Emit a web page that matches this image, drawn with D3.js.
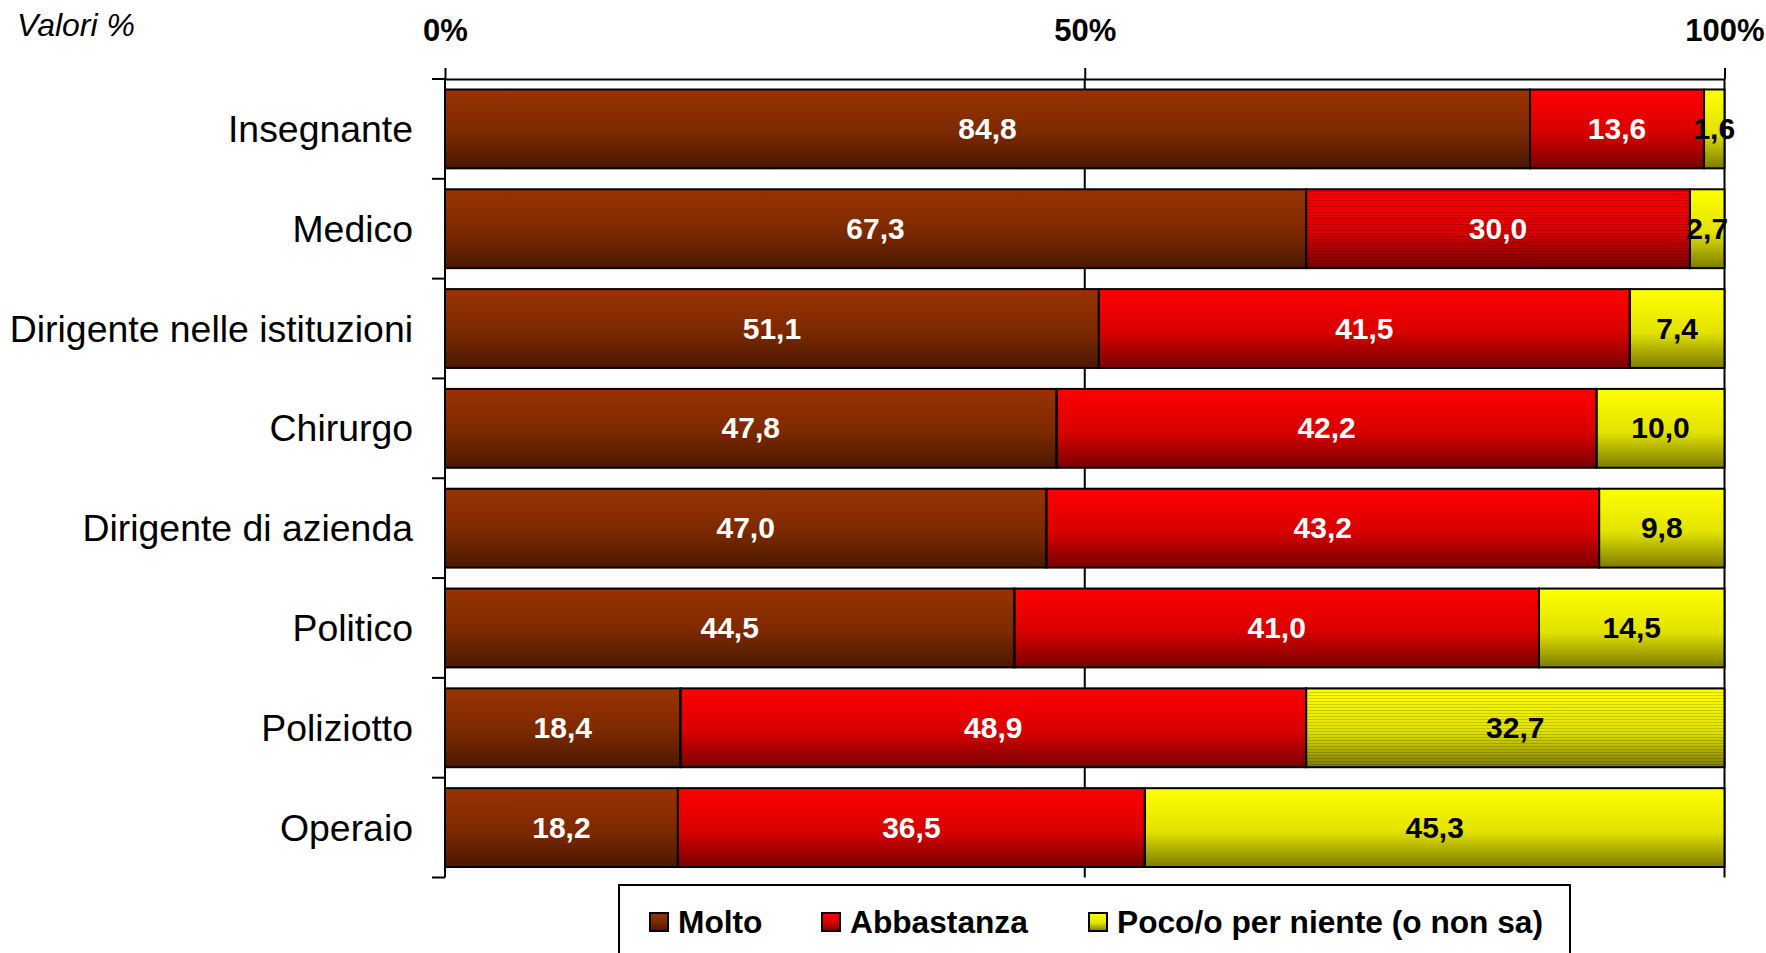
<!DOCTYPE html>
<html>
<head>
<meta charset="utf-8">
<script src="https://cdn.jsdelivr.net/npm/d3@7"></script>
<style>
  html, body { margin: 0; padding: 0; background: #fff; }
  svg { display: block; font-family: "Liberation Sans", Arial, sans-serif; }
</style>
</head>
<body>
<svg id="chart" width="1766" height="953"></svg>
<script>
const categories = ["Insegnante", "Medico", "Dirigente nelle istituzioni", "Chirurgo",
  "Dirigente di azienda", "Politico", "Poliziotto", "Operaio"];
const seriesNames = ["Molto", "Abbastanza", "Poco/o per niente (o non sa)"];
const molto = [84.8, 67.3, 51.1, 47.8, 47.0, 44.5, 18.4, 18.2];
const abbastanza = [13.6, 30.0, 41.5, 42.2, 43.2, 41.0, 48.9, 36.5];
const poco = [1.6, 2.7, 7.4, 10.0, 9.8, 14.5, 32.7, 45.3];
const tickValues = [0, 50, 100];
const axisTitle = "Valori %";

const seriesValues = [molto, abbastanza, poco];
const topColors = ["#993300", "#ff0000", "#ffff00"];
const midColors = ["#7c2900", "#d80000", "#e2e200"];
const bottomColors = ["#4a1800", "#780000", "#7c7c00"];
const labelColors = ["#ffffff", "#ffffff", "#000000"];
// segments drawn with a striped texture in the original
const striped = [[1, 1], [6, 2]]; // [categoryIndex, seriesIndex]

const svg = d3.select("#chart");
const defs = svg.append("defs");
seriesNames.forEach((s, i) => {
  const g = defs.append("linearGradient").attr("id", "grad" + i)
    .attr("x1", 0).attr("y1", 0).attr("x2", 0).attr("y2", 1);
  g.append("stop").attr("offset", "0%").attr("stop-color", topColors[i]);
  g.append("stop").attr("offset", "55%").attr("stop-color", midColors[i]);
  g.append("stop").attr("offset", "100%").attr("stop-color", bottomColors[i]);
});
const pat = defs.append("pattern").attr("id", "stripes")
  .attr("patternUnits", "userSpaceOnUse").attr("width", 8).attr("height", 3);
pat.append("rect").attr("x", 0).attr("y", 2).attr("width", 8).attr("height", 1)
  .attr("fill", "rgba(0,0,0,0.16)");

const plotLeft = 445, plotRight = 1724.5, plotTop = 79, plotBottom = 877.5;
const x = d3.scaleLinear().domain([0, 100]).range([plotLeft, plotRight]);
const y = d3.scaleBand().domain(categories).range([plotTop, plotBottom])
  .paddingInner(0.21).paddingOuter(0.105);
const step = y.step();

// gridlines at 50% and 100%
svg.append("g").selectAll("line").data(tickValues.filter(v => v > 0)).join("line")
  .attr("x1", d => x(d)).attr("x2", d => x(d))
  .attr("y1", plotTop).attr("y2", plotBottom)
  .attr("stroke", "#000").attr("stroke-width", 2);

// top axis
const xAxis = svg.append("g").attr("transform", `translate(0,${plotTop})`)
  .call(d3.axisTop(x).tickValues(tickValues).tickSize(11).tickSizeOuter(0).tickFormat(d => d + "%"));
xAxis.select(".domain").attr("stroke", "#000").attr("stroke-width", 2);
xAxis.selectAll(".tick line").attr("stroke", "#000").attr("stroke-width", 2);
xAxis.selectAll(".tick text").attr("font-size", 31).attr("font-weight", "bold")
  .attr("font-family", "'Liberation Sans', Arial, sans-serif")
  .attr("fill", "#000").attr("y", -38).attr("dy", 0);

// left axis: domain line + ticks at band boundaries
const boundaries = categories.map(c => y(c) - y.paddingInner() * step / 2);
boundaries.push(plotBottom);
svg.append("line").attr("x1", plotLeft).attr("x2", plotLeft).attr("y1", plotTop).attr("y2", plotBottom)
  .attr("stroke", "#000").attr("stroke-width", 2);
svg.append("g").selectAll("line").data(boundaries).join("line")
  .attr("x1", plotLeft - 13).attr("x2", plotLeft).attr("y1", d => d).attr("y2", d => d)
  .attr("stroke", "#000").attr("stroke-width", 2);

// category labels
svg.append("g").selectAll("text").data(categories).join("text")
  .attr("x", 413).attr("y", d => y(d) + y.bandwidth() / 2 + 13)
  .attr("text-anchor", "end").attr("font-size", 37.4).attr("fill", "#000")
  .text(d => d);

// bars
const stackData = categories.map((c, ci) => {
  let acc = 0;
  return seriesValues.map((vals, si) => {
    const seg = { cat: c, ci, si, v0: acc, v1: acc + vals[ci], v: vals[ci] };
    acc += vals[ci];
    return seg;
  });
}).flat();

const bars = svg.append("g");
bars.selectAll("rect.seg").data(stackData).join("rect").attr("class", "seg")
  .attr("x", d => x(d.v0)).attr("width", d => x(d.v1) - x(d.v0))
  .attr("y", d => y(d.cat)).attr("height", y.bandwidth())
  .attr("fill", d => `url(#grad${d.si})`);
bars.selectAll("rect.str").data(stackData.filter(d => striped.some(s => s[0] === d.ci && s[1] === d.si)))
  .join("rect").attr("class", "str")
  .attr("x", d => x(d.v0)).attr("width", d => x(d.v1) - x(d.v0))
  .attr("y", d => y(d.cat)).attr("height", y.bandwidth())
  .attr("fill", "url(#stripes)");
bars.selectAll("rect.out").data(stackData).join("rect").attr("class", "out")
  .attr("x", d => x(d.v0)).attr("width", d => x(d.v1) - x(d.v0))
  .attr("y", d => y(d.cat)).attr("height", y.bandwidth())
  .attr("fill", "none").attr("stroke", "#000").attr("stroke-width", 2);

// value labels
svg.append("g").selectAll("text").data(stackData).join("text")
  .attr("x", d => x((d.v0 + d.v1) / 2))
  .attr("y", d => y(d.cat) + y.bandwidth() / 2 + 10)
  .attr("text-anchor", "middle").attr("font-size", 30).attr("font-weight", "bold")
  .attr("fill", d => labelColors[d.si])
  .text(d => d3.format(".1f")(d.v).replace(".", ","));

// axis title
svg.append("text").attr("x", 17).attr("y", 36).attr("font-size", 32)
  .attr("font-style", "italic").attr("fill", "#000").text(axisTitle);

// legend
const legend = svg.append("g");
legend.append("rect").attr("x", 619).attr("y", 885).attr("width", 951).attr("height", 90)
  .attr("fill", "#fff").attr("stroke", "#000").attr("stroke-width", 2);
const legendX = [650, 822, 1089];
seriesNames.forEach((s, i) => {
  legend.append("rect").attr("x", legendX[i]).attr("y", 913).attr("width", 18).attr("height", 18)
    .attr("fill", `url(#grad${i})`).attr("stroke", "#000").attr("stroke-width", 2);
  legend.append("text").attr("x", legendX[i] + 28).attr("y", 933)
    .attr("font-size", 31.7).attr("font-weight", "bold").attr("fill", "#000").text(s);
});
</script>
</body>
</html>
